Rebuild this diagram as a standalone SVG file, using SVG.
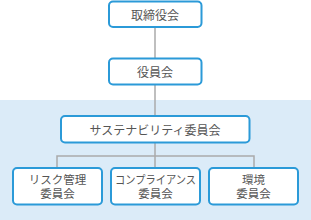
<svg xmlns="http://www.w3.org/2000/svg" width="311" height="220" viewBox="0 0 311 220">
<style>
.box{fill:#fff;stroke:#2b9ad8;stroke-width:2}
.t{font-family:"Noto Sans CJK JP","Noto Sans",sans-serif;font-size:12px;fill:#555;text-anchor:middle;dominant-baseline:central}
.s{font-family:"Liberation Sans","Noto Sans CJK JP",sans-serif;font-size:11.5px}
.c{fill:none;stroke:#aaa;stroke-width:1.5}
</style>
<rect x="0" y="100" width="311" height="120" fill="#dbebf8"/>
<g id="connectors">
<path class="c" d="M155 27V58M155 85V115M155 143V156M57 167V156H254V167M155 156V167"/>
</g>
<g id="n1"><rect class="box" x="109" y="1.5" width="92.5" height="25.5" rx="4"/><text class="t" x="155" y="14">取締役会</text></g>
<g id="n2"><rect class="box" x="109" y="58.5" width="92.5" height="26" rx="4"/><text class="t" x="155" y="71.5">役員会</text></g>
<g id="n3"><rect class="box" x="61" y="116" width="188.5" height="26.5" rx="4"/><text class="t" x="155" y="129">サステナビリティ委員会</text></g>
<g id="n4"><rect class="box" x="13" y="168" width="89" height="36.5" rx="4"/><text class="t s"><tspan x="57.5" y="180">リスク管理</tspan><tspan x="57.5" y="193.7">委員会</tspan></text></g>
<g id="n5"><rect class="box" x="111" y="168" width="89" height="36.5" rx="4"/><text class="t s"><tspan x="155.5" y="180" textLength="81" lengthAdjust="spacingAndGlyphs">コンプライアンス</tspan><tspan x="155.5" y="193.7">委員会</tspan></text></g>
<g id="n6"><rect class="box" x="209" y="168" width="89" height="36.5" rx="4"/><text class="t s"><tspan x="253.5" y="180">環境</tspan><tspan x="253.5" y="193.7">委員会</tspan></text></g>
</svg>
